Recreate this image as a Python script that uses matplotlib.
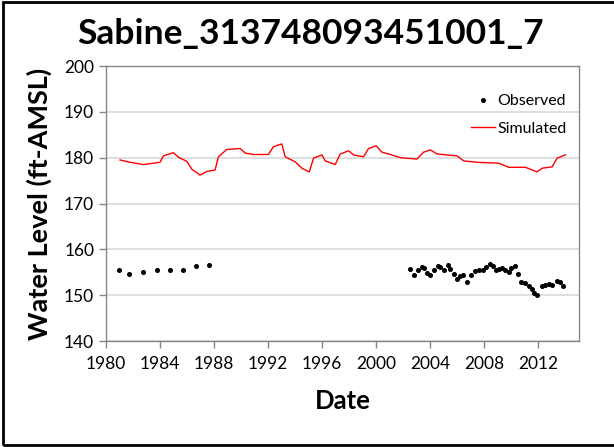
import numpy as np
import matplotlib.pyplot as plt
from matplotlib.patches import Rectangle

plt.rcParams['font.family'] = ['Lato', 'DejaVu Sans']

# Observed heads (decimal year, ft-AMSL)
obs_year = [1980.99, 1981.73, 1982.72, 1983.75, 1984.74, 1985.68, 1986.67, 1987.63,
            2002.47, 2002.81, 2003.06, 2003.38, 2003.56, 2003.75, 2004.00, 2004.25,
            2004.54, 2004.74, 2004.99, 2005.28, 2005.48, 2005.73, 2005.98, 2006.22,
            2006.42, 2006.72, 2007.01, 2007.33, 2007.58, 2007.90, 2008.15, 2008.40,
            2008.64, 2008.89, 2009.06, 2009.31, 2009.56, 2009.80, 2010.00, 2010.25,
            2010.47, 2010.72, 2011.04, 2011.28, 2011.53, 2011.65, 2011.90, 2012.27,
            2012.52, 2012.77, 2013.01, 2013.38, 2013.58, 2013.80]
obs_level = [155.5, 154.6, 155.1, 155.6, 155.5, 155.5, 156.4, 156.6,
             155.8, 154.5, 155.6, 156.1, 155.9, 154.8, 154.5, 155.5,
             156.4, 156.1, 155.6, 156.5, 155.8, 154.6, 153.6, 154.2,
             154.5, 152.9, 154.3, 155.3, 155.5, 155.6, 156.1, 156.8,
             156.4, 155.6, 155.8, 155.9, 155.5, 155.1, 155.9, 156.4,
             154.6, 152.9, 152.6, 152.0, 151.3, 150.4, 150.1, 152.0,
             152.3, 152.4, 152.3, 153.0, 152.9, 151.9]

# Simulated heads
sim_year = [1981.04, 1981.78, 1982.77, 1984.00, 1984.25, 1984.99, 1985.36, 1985.98,
            1986.35, 1986.96, 1987.46, 1988.07, 1988.32, 1988.94, 1989.93, 1990.30,
            1990.91, 1992.02, 1992.39, 1993.01, 1993.26, 1994.00, 1994.50, 1995.04,
            1995.36, 1995.98, 1996.22, 1996.96, 1997.33, 1997.95, 1998.32, 1999.06,
            1999.43, 1999.98, 2000.42, 2001.04, 2001.78, 2003.01, 2003.50, 2004.00,
            2004.50, 2005.97, 2006.47, 2007.46, 2009.06, 2009.80, 2011.04, 2011.90,
            2012.27, 2013.01, 2013.38, 2014.00]
sim_level = [179.5, 179.0, 178.5, 179.0, 180.4, 181.1, 180.1, 179.2,
             177.5, 176.2, 177.0, 177.3, 180.2, 181.8, 182.0, 181.0,
             180.7, 180.7, 182.4, 183.0, 180.2, 179.1, 177.7, 176.9,
             179.9, 180.6, 179.3, 178.5, 180.8, 181.5, 180.6, 180.2,
             182.0, 182.6, 181.2, 180.7, 180.0, 179.7, 181.2, 181.7,
             180.8, 180.4, 179.3, 179.0, 178.8, 177.9, 177.9, 176.9,
             177.7, 178.0, 179.9, 180.6]

x_ticks = np.arange(1980, 2013, 4)
y_ticks = np.arange(140, 201, 10)

fig = plt.figure(figsize=(6.14, 4.47), dpi=100)
ax = fig.add_axes([0.1726, 0.2371, 0.7704, 0.6152])

ax.plot(obs_year, obs_level, 'o', color='black', markersize=2.6, label='Observed')
ax.plot(sim_year, sim_level, '-', color='#ff0000', lw=1.0, label='Simulated')

ax.set_xlim(1980, 2015)
ax.set_ylim(140, 200)
ax.set_xticks(x_ticks)
ax.set_yticks(y_ticks)
ax.grid(axis='y', color='#d9d9d9', lw=1.2)
ax.set_axisbelow(True)
for s in ax.spines.values():
    s.set_color('#868686')
    s.set_linewidth(1.0)
ax.tick_params(colors='#868686', labelcolor='black', labelsize=12.5, length=5, width=1)
ax.tick_params(axis='x', pad=6)

fig.suptitle('Sabine_313748093451001_7', x=0.505, y=0.96, fontsize=25.5, fontweight='bold')
ax.set_xlabel('Date', fontsize=18.5, fontweight='bold', labelpad=12)
ax.set_ylabel('Water Level (ft-AMSL)', fontsize=19.5, fontweight='bold', labelpad=9)

ax.legend(loc='upper right', bbox_to_anchor=(1.005, 0.95), frameon=False, fontsize=11.5,
          handlelength=1.5, handletextpad=0.2, labelspacing=0.85, markerfirst=True)

# black frame round the chart
fig.patches.append(Rectangle((3 / 614, 2 / 447), 1.2, 443 / 447, transform=fig.transFigure,
                             fill=False, edgecolor='black', lw=2, clip_on=False))

fig.savefig('out.png', dpi=100)
